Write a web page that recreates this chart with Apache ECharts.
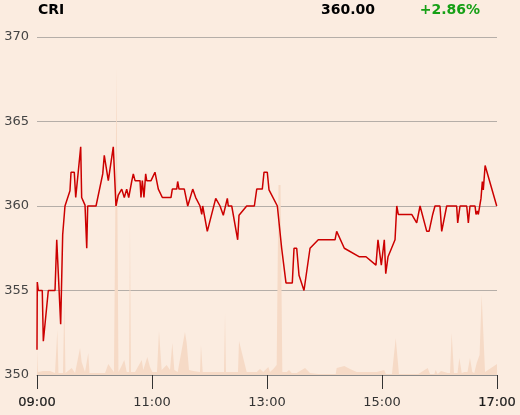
<!DOCTYPE html>
<html><head><meta charset="utf-8">
<script src="https://cdn.jsdelivr.net/npm/echarts@6/dist/echarts.min.js"></script>
<style>html,body{margin:0;padding:0;background:#fbece0;}#c{width:520px;height:415px;}</style>
</head><body><div id="c"></div>
<script>
// Minutes after 09:00
const priceTimes = [0,0.3,1.4,5.5,6.6,11.8,18.8,20.6,22.2,24.7,26.8,29.2,31.0,34.4,35.5,38.9,40.4,45.6,46.6,50.1,51.9,52.9,61.6,68.6,70.2,74.4,79.6,82.4,84.8,88.4,91.1,93.6,95.7,98.8,100.5,102.3,107.5,108.5,109.9,111.6,113.4,114.5,119.0,123.1,126.6,130.8,139.8,141.2,145.8,146.8,148.2,153.7,157.3,162.5,165.6,170.1,171.9,172.9,177.7,186.5,191.0,194.4,196.2,198.6,199.6,203.2,209.4,210.8,218.8,226.8,229.3,235.1,236.9,240.3,242.1,250.8,255.3,257.0,259.8,266.4,268.2,271.0,273.4,278.6,284.9,293.5,311.0,312.7,320.7,336.0,343.3,353.7,355.8,359.3,362.4,363.9,366.3,373.6,375.4,377.0,391.0,396.2,399.7,406.7,409.1,412.9,415.3,420.5,422.3,427.5,437.9,439.0,441.4,448.4,450.1,451.8,457.1,458.1,459.5,460.5,463.3,464.7,465.7,467.6,479.7];
const prices = [351.5,355.5,355.0,355.0,352.0,355.0,355.0,358.0,358.0,353.0,358.3,360.0,360.0,360.9,362.0,362.0,360.5,363.5,360.5,360.05,357.5,360.0,360.0,361.9,363.0,361.5,363.5,360.0,360.65,361.0,360.5,361.0,360.5,361.45,361.9,361.5,361.5,360.5,361.5,360.5,361.9,361.5,361.5,362.0,361.0,360.5,360.5,361.0,361.0,361.45,361.0,361.0,360.0,361.0,360.5,360.0,359.5,360.0,358.5,360.45,360.0,359.45,359.45,360.45,360.0,360.0,358.0,359.45,360.0,360.0,361.0,361.0,362.0,362.0,360.95,360.0,357.5,357.5,355.45,355.45,357.5,357.5,355.9,355.0,357.5,358.0,358.0,358.5,357.5,357.0,357.0,356.5,358.0,356.5,358.0,356.0,357.0,358.0,360.0,359.5,359.5,359.0,360.0,358.5,358.5,359.5,360.0,360.0,358.5,360.0,360.0,359.0,360.0,360.0,359.0,360.0,360.0,359.5,359.7,359.5,360.45,361.45,360.95,362.4,360.0];
const volTimes = [0,1,6.3,13.6,18.8,21.2,22.4,27.1,28.5,29.7,36.2,39.7,44.9,46.6,50.1,53.5,54.8,71.0,74.4,77.9,80.3,83.0,85.0,87.7,91.1,93.6,96.0,97.0,98.1,102.3,109.3,110.9,115.1,117.9,120.3,125.2,127.3,130.1,135.3,138.8,141.2,143.3,146.8,151.0,154.4,156.2,157.3,158.6,163.1,170.1,171.1,172.9,178.8,187.5,195.1,196.2,197.2,199.6,209.7,210.8,218.8,229.3,232.7,236.1,241.4,243.1,246.6,250.1,252.0,254.1,256.0,260.6,263.0,265.8,271.0,279.7,284.9,293.5,311.7,312.7,320.7,326.6,333.6,342.3,354.5,356.1,362.4,363.9,370.4,374.3,377.7,397.9,407.7,410.1,414.6,416.0,418.1,421.6,428.6,431.0,432.7,435.1,438.8,440.7,443.2,445.9,449.2,451.8,454.2,456.3,458.8,461.8,464.0,465.7,467.5,480];
const volumes = [25,3,4,4,2,45,2,2,75,2,7,2,27,13,3,22,2,2,11,6,3,307,3,8,15,3,3,153,3,3,15,5,18,8,3,3,44,5,10,5,32,5,3,25,43,32,33,5,4,3,30,3,3,3,3,62,3,3,3,34,3,3,6,3,8,3,6,10,190,190,3,3,5,2,2,7,2,1,1,7,9,6,3,3,3,1,5,1,1,37,1,1,7,1,1,5,1,4,2,2,42,2,2,17,2,3,3,17,3,2,12,20,80,43,3,11];
const yTicks = [350,355,360,365,370];
const xTickMinutes = [0,120,240,360,480];
const ticker = 'CRI';
const lastPrice = '360.00';
const changePct = '+2.86%';

const fmtTime = v => String(9 + Math.round(v/60)).padStart(2,'0') + ':00';
const chart = echarts.init(document.getElementById('c'));
const font = 'DejaVu Sans';
chart.setOption({
  backgroundColor: '#fbece0',
  animation: false,
  textStyle: {fontFamily: font},
  grid: {left: 37, right: 23, top: 37, bottom: 40, containLabel: false},
  graphic: [
    {type:'text', left: 38, top: 3, style:{text: ticker, font: 'bold 14px ' + font, fill:'#000'}},
    {type:'text', right: 145, top: 3, style:{text: lastPrice, font: 'bold 14px ' + font, fill:'#000', textAlign:'right'}},
    {type:'text', right: 40, top: 3, style:{text: changePct, font: 'bold 14px ' + font, fill:'#16a016', textAlign:'right'}}
  ],
  xAxis: {
    type: 'value', min: xTickMinutes[0], max: xTickMinutes[xTickMinutes.length-1], interval: 120,
    axisLine: {show: true, lineStyle: {color: '#888', width: 1}},
    axisTick: {show: true, length: 14, lineStyle: {color: '#333'}},
    splitLine: {show: false},
    axisLabel: {
      margin: 21, fontSize: 13, color: '#333', fontFamily: font,
      formatter: v => (v === 0 || v === 480) ? '{b|' + fmtTime(v) + '}' : fmtTime(v),
      rich: {b: {fontSize: 13, color: '#1a1a1a', fontFamily: font, textBorderColor: '#1a1a1a', textBorderWidth: 0.2}}
    }
  },
  yAxis: [{
    type: 'value', min: yTicks[0], max: yTicks[yTicks.length-1], interval: 5,
    axisLine: {show: false}, axisTick: {show: false},
    splitLine: {show: true, lineStyle: {color: '#b5aea8', width: 1}},
    axisLabel: {fontSize: 13, color: '#444', margin: 8, fontFamily: font}
  }, {
    type: 'value', min: 0, max: 338, show: false,
    axisLine: {show:false}, splitLine: {show:false}, axisLabel: {show:false}
  }],
  series: [{
    type: 'line', yAxisIndex: 1, z: 1,
    data: volTimes.map((t,i) => [t, volumes[i]]),
    showSymbol: false, symbol: 'none',
    lineStyle: {width: 0, color: '#f6dac6'},
    areaStyle: {color: '#f6dac6', opacity: 1}
  }, {
    type: 'line', yAxisIndex: 0, z: 3,
    data: priceTimes.map((t,i) => [t, prices[i]]),
    showSymbol: false, symbol: 'none',
    lineStyle: {width: 1.5, color: '#cc0000'}
  }]
});
</script></body></html>
